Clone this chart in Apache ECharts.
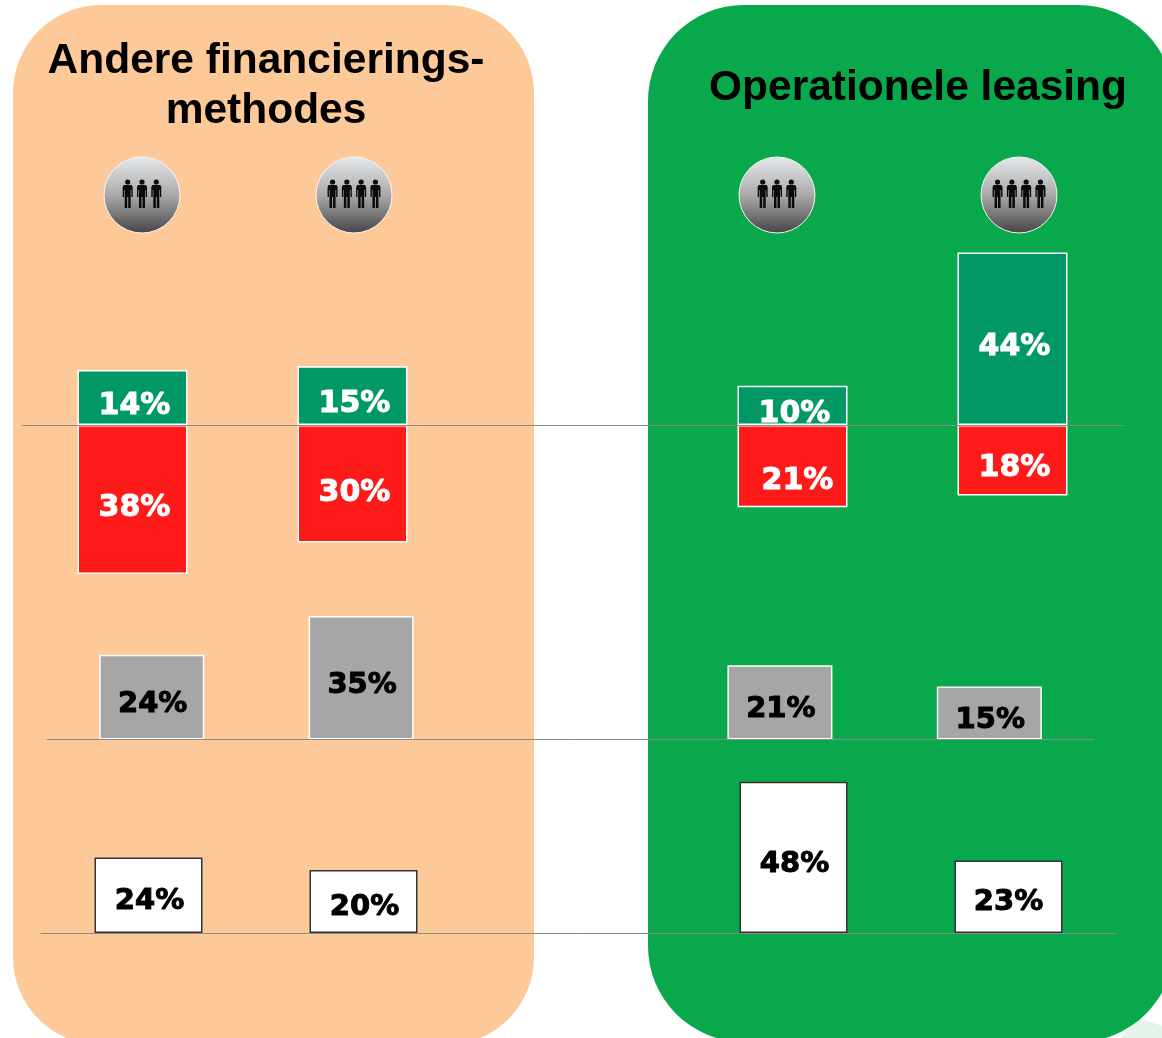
<!DOCTYPE html>
<html>
<head>
<meta charset="utf-8">
<title>Operationele leasing</title>
<style>
  html, body { margin: 0; padding: 0; background: #fff; }
  #main { width: 1162px; height: 1038px; }
</style>
<script src="https://cdn.jsdelivr.net/npm/echarts@6/dist/echarts.min.js"></script>
</head>
<body>
<div id="main"></div>
<script>
// blank middle category separates the two panels
var categories = ['A3', 'A4', '', 'O3', 'O4'];
var greenValues = [14, 15, null, 10, 44];
var redValues = [38, 30, null, 21, 18];
var greyValues = [24, 35, null, 21, 15];
var whiteValues = [24, 20, null, 48, 23];

var titleLeft = 'Andere financierings-\nmethodes';
var titleRight = 'Operationele leasing';
var peopleCounts = [3, 4, 3, 4];

// label nudges per bar [x, y], the labels don't sit centred in the original
var greenShift = [[2, 9], [2, 9], null, [2, 9], [2, 8]];
var redShift = [[2, 9], [2, 9], null, [5, 15], [2, 8]];
var greyShift = [[1, 7], [1, 8], null, [1, 7], [1, 7]];
var whiteShift = [[1, 6], [1, 6], null, [1, 7], [0, 6]];

function build(values, shift, sign) {
    return values.map(function (v, i) {
        if (v == null) return null;
        return { value: v * sign, label: { offset: shift[i] } };
    });
}

function barSeries(idx, values, shift, sign, fill, border, textColor, fontSize, width) {
    return {
        type: 'bar',
        xAxisIndex: idx,
        yAxisIndex: idx,
        stack: 'row' + idx,
        barWidth: width,
        data: build(values, shift, sign),
        itemStyle: { color: fill, borderColor: border, borderWidth: 1.5 },
        label: {
            show: true,
            position: 'inside',
            fontFamily: 'DejaVu Sans',
            fontWeight: 'bold',
            fontSize: fontSize,
            color: textColor,
            textBorderColor: textColor,
            textBorderWidth: 1,
            formatter: function (p) { return Math.abs(p.value) + '%'; }
        }
    };
}

function xAxis(idx) {
    return {
        type: 'category',
        gridIndex: idx,
        data: categories,
        z: 5,
        axisLine: { show: true, onZero: true, lineStyle: { color: '#8a8a8a', width: 1 } },
        axisTick: { show: false },
        axisLabel: { show: false }
    };
}

function yAxis(idx, min, max) {
    return { type: 'value', gridIndex: idx, min: min, max: max, show: false, splitLine: { show: false } };
}

// people icon: gradient disc with small figures on it
function icon(cx, count) {
    var cy = 195;
    var items = [{
        type: 'circle',
        z: -5,
        shape: { cx: cx, cy: cy, r: 38 },
        style: {
            fill: new echarts.graphic.LinearGradient(0, 0, 0, 1, [
                { offset: 0, color: '#e6e9ec' },
                { offset: 0.5, color: '#aaaaaa' },
                { offset: 1, color: '#444444' }
            ]),
            stroke: '#f4f4f4',
            lineWidth: 1
        }
    }];
    var body = [[-4, -10], [4, -10], [5, -8], [5, 2], [3.6, 2], [3.6, -5], [3, -5], [3, 13], [0.5, 13], [0.5, 2],
        [-0.5, 2], [-0.5, 13], [-3, 13], [-3, -5], [-3.6, -5], [-3.6, 2], [-5, 2], [-5, -8]];
    for (var i = 0; i < count; i++) {
        var px = cx + (i - (count - 1) / 2) * 14.3;
        items.push({ type: 'circle', z: -4, shape: { cx: px, cy: cy - 13, r: 2.6 }, style: { fill: '#0b0b0b' } });
        items.push({
            type: 'polygon',
            z: -4,
            shape: { points: body.map(function (p) { return [px + p[0], cy + p[1]]; }) },
            style: { fill: '#0b0b0b' }
        });
    }
    return items;
}

var iconX = [142, 354, 777, 1019];
var graphics = [
    { type: 'rect', z: -10, shape: { x: 13, y: 5, width: 521, height: 1040, r: 88 }, style: { fill: '#fdc998' } },
    { type: 'polygon', z: -11, shape: { points: [[1120, 1038], [1140, 1018], [1162, 1026], [1162, 1038]] }, style: { fill: '#e4f4e8' } },
    { type: 'rect', z: -10, shape: { x: 648, y: 5, width: 526, height: 1037, r: 96 }, style: { fill: '#0aa84c' } }
];
peopleCounts.forEach(function (n, i) {
    graphics = graphics.concat(icon(iconX[i], n));
});

var myChart = echarts.init(document.getElementById('main'));

var option = {
    animation: false,
    backgroundColor: '#fff',
    title: [
        {
            text: titleLeft,
            left: 261,
            top: 31,
            textAlign: 'center',
            textStyle: { fontFamily: 'Liberation Sans', fontWeight: 'bold', fontSize: 42.5, lineHeight: 50, color: '#000', align: 'center' }
        },
        {
            text: titleRight,
            left: 913,
            top: 58,
            textAlign: 'center',
            textStyle: { fontFamily: 'Liberation Sans', fontWeight: 'bold', fontSize: 42.5, lineHeight: 50, color: '#000' }
        }
    ],
    graphic: graphics,
    grid: [
        { left: 22.5, width: 1100, top: 229, height: 352.8 },
        { left: 47, width: 1047, top: 598.3, height: 141.2 },
        { left: 41, width: 1075, top: 775.5, height: 157.5 }
    ],
    xAxis: [xAxis(0), xAxis(1), xAxis(2)],
    yAxis: [yAxis(0, -40, 50), yAxis(1, 0, 40), yAxis(2, 0, 50)],
    series: [
        barSeries(0, greenValues, greenShift, 1, '#009966', '#ffffff', '#ffffff', 30, 110),
        barSeries(0, redValues, redShift, -1, '#ff1a1a', '#ffffff', '#ffffff', 30, 110),
        barSeries(1, greyValues, greyShift, 1, '#a6a6a6', '#ffffff', '#000000', 29, 105),
        barSeries(2, whiteValues, whiteShift, 1, '#ffffff', '#333333', '#000000', 29, 108)
    ]
};

myChart.setOption(option);
</script>
</body>
</html>
